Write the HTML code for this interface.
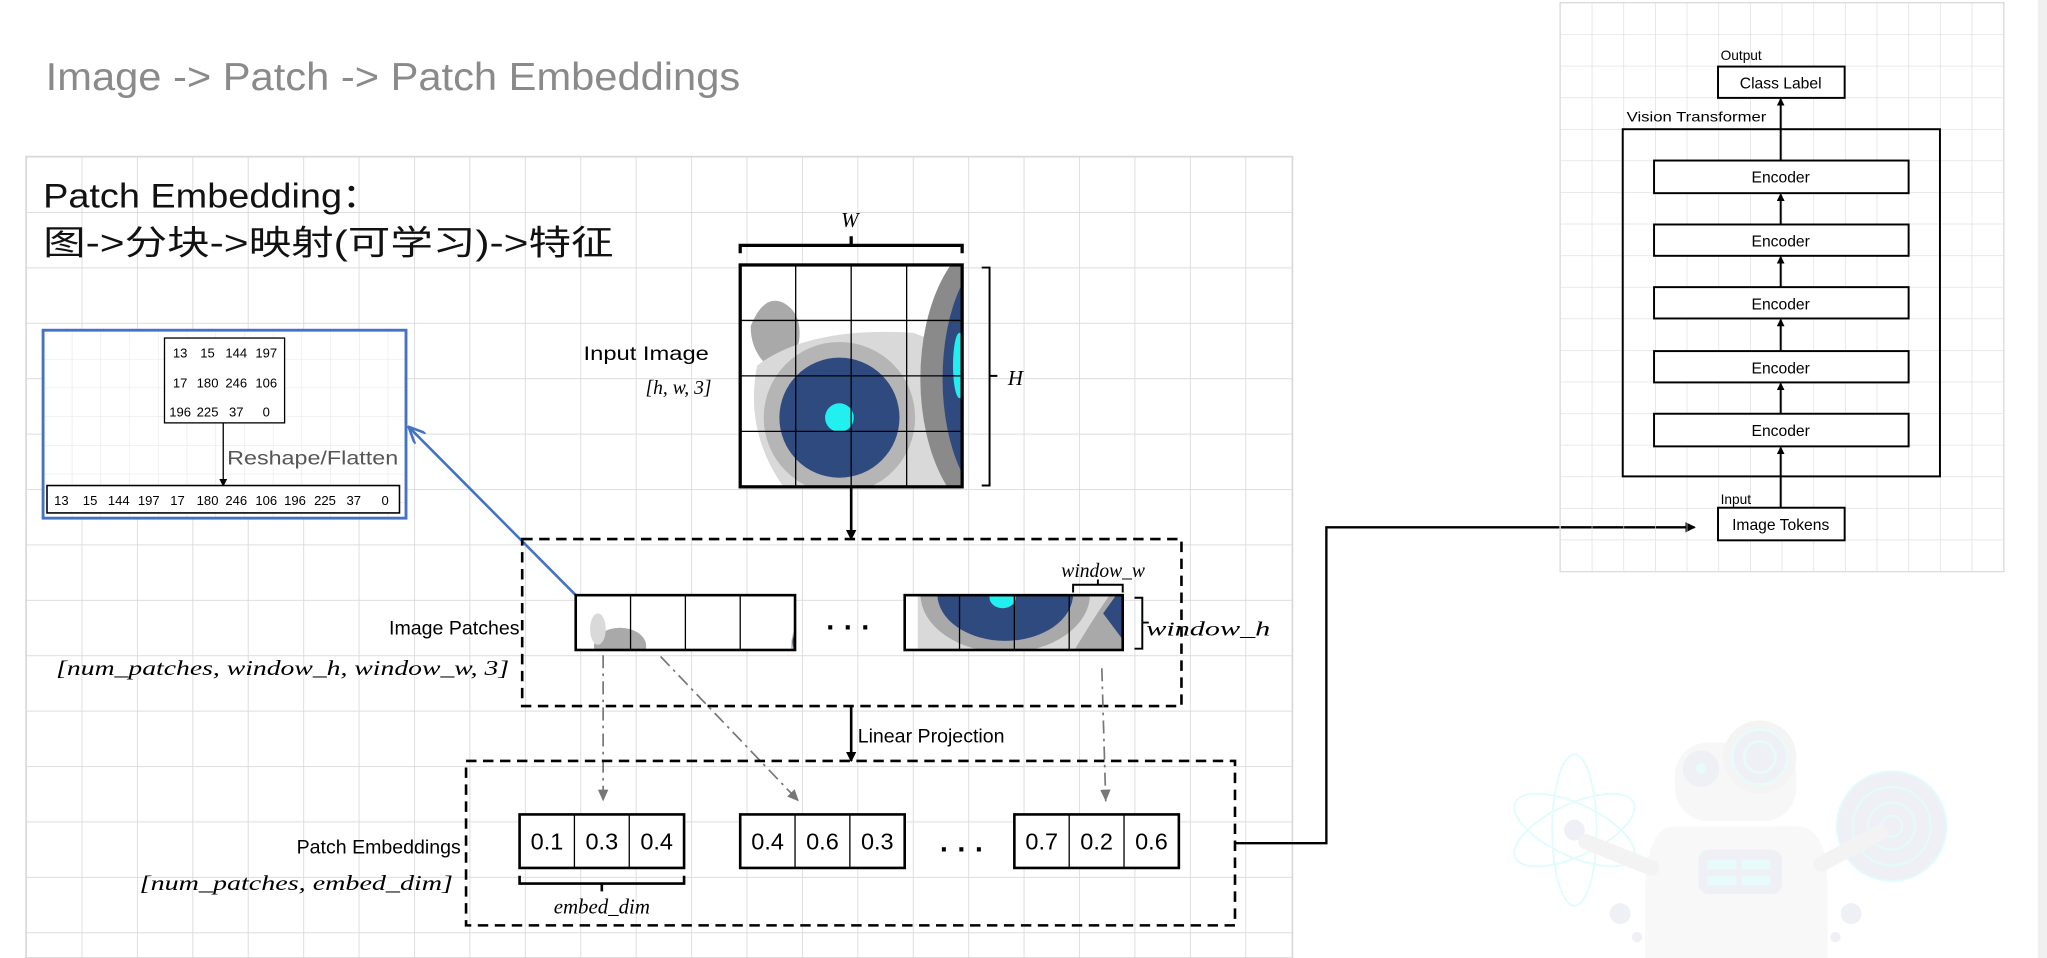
<!DOCTYPE html>
<html><head><meta charset="utf-8"><style>
html,body{margin:0;padding:0;background:#fff;width:2047px;height:958px;overflow:hidden}
svg{display:block}
text{font-family:"Liberation Sans","Noto Sans CJK SC",sans-serif}
.ser{font-family:"Liberation Serif",serif;font-style:italic}
</style></head><body>
<svg width="2047" height="958" viewBox="0 0 1568 734" preserveAspectRatio="none" xmlns="http://www.w3.org/2000/svg">
<defs>
<pattern id="g1" x="20" y="120" width="42.45" height="42.45" patternUnits="userSpaceOnUse"><path d="M0 0H42.45M0 0V42.45" stroke="#d9d9d9" stroke-width="1.3" fill="none"/></pattern>
<pattern id="g2" x="1195" y="2" width="24.25" height="24.2" patternUnits="userSpaceOnUse"><path d="M0 0H24.25M0 0V24.2" stroke="#dcdcdc" stroke-width="1" fill="none"/></pattern>
<pattern id="g3" x="33" y="253" width="22" height="22" patternUnits="userSpaceOnUse"><path d="M0 0H22M0 0V22" stroke="#e4e4e4" stroke-width="0.8" fill="none"/></pattern>
<marker id="ah" markerWidth="8" markerHeight="8" refX="7" refY="4" orient="auto" markerUnits="userSpaceOnUse"><path d="M0 0L8 4L0 8z" fill="#000"/></marker>
<marker id="ahs" markerWidth="6" markerHeight="6" refX="5" refY="3" orient="auto" markerUnits="userSpaceOnUse"><path d="M0 0L6 3L0 6z" fill="#000"/></marker>
<marker id="ahg" markerWidth="10" markerHeight="10" refX="9" refY="5" orient="auto" markerUnits="userSpaceOnUse"><path d="M0 1L9 5L0 9z" fill="#777"/></marker>
<marker id="ahb" markerWidth="14" markerHeight="12" refX="13" refY="6" orient="auto" markerUnits="userSpaceOnUse"><path d="M0 0L13 6L0 12" fill="none" stroke="#4472c4" stroke-width="2"/></marker>
<clipPath id="imgc"><rect x="567" y="203" width="170" height="170"/></clipPath>
<clipPath id="p1c"><rect x="441" y="456" width="168" height="42"/></clipPath>
<clipPath id="p2c"><rect x="693" y="456" width="167" height="42"/></clipPath>
</defs>
<rect x="1561" y="0" width="7" height="734" fill="#f0f0f0"/>
<text x="35" y="69" font-size="30" fill="#8a8a8a" textLength="532" lengthAdjust="spacingAndGlyphs">Image -&gt; Patch -&gt; Patch Embeddings</text>
<rect x="20" y="120" width="970" height="614" fill="url(#g1)"/>
<rect x="20" y="120" width="970" height="614" fill="none" stroke="#d9d9d9" stroke-width="1.3"/>
<text x="33" y="159" font-size="26" fill="#111" textLength="258" lengthAdjust="spacingAndGlyphs">Patch Embedding：</text>
<text x="33" y="195" font-size="26" fill="#111" textLength="437" lengthAdjust="spacingAndGlyphs">图-&gt;分块-&gt;映射(可学习)-&gt;特征</text>

<rect x="33" y="253" width="278" height="144" fill="#fff"/>
<rect x="33" y="253" width="278" height="144" fill="url(#g3)"/>
<rect x="33" y="253" width="278" height="144" fill="none" stroke="#4472c4" stroke-width="2.2"/>
<rect x="126" y="259" width="92" height="65" fill="#fff" stroke="#000" stroke-width="1"/>
<g font-size="10" text-anchor="middle" fill="#000">
<text x="138" y="274">13</text><text x="159" y="274">15</text><text x="181" y="274">144</text><text x="204" y="274">197</text>
<text x="138" y="297">17</text><text x="159" y="297">180</text><text x="181" y="297">246</text><text x="204" y="297">106</text>
<text x="138" y="319">196</text><text x="159" y="319">225</text><text x="181" y="319">37</text><text x="204" y="319">0</text>
</g>
<line x1="171" y1="324" x2="171" y2="372" stroke="#000" stroke-width="1" marker-end="url(#ahs)"/>
<text x="174" y="356" font-size="15" fill="#555" textLength="131" lengthAdjust="spacingAndGlyphs">Reshape/Flatten</text>
<rect x="36" y="372" width="270" height="21" fill="#fff" stroke="#000" stroke-width="1.2"/>
<g font-size="10" text-anchor="middle" fill="#000">
<text x="47" y="387">13</text><text x="69" y="387">15</text><text x="91" y="387">144</text><text x="114" y="387">197</text><text x="136" y="387">17</text><text x="159" y="387">180</text><text x="181" y="387">246</text><text x="204" y="387">106</text><text x="226" y="387">196</text><text x="249" y="387">225</text><text x="271" y="387">37</text><text x="295" y="387">0</text>
</g>
<line x1="442" y1="457" x2="313" y2="327" stroke="#4472c4" stroke-width="2" marker-end="url(#ahb)"/>

<text x="651" y="174" class="ser" font-size="16" text-anchor="middle">W</text>
<path d="M567 194V188H737V194M652 188V181" fill="none" stroke="#000" stroke-width="2.5"/>
<rect x="567" y="203" width="170" height="170" fill="#fff"/>
<g clip-path="url(#imgc)">
<path d="M575 250Q585 225 600 232Q615 240 612 262Q605 285 590 282Q575 270 575 250z" fill="#a9a9a9"/>
<path d="M580 280Q620 250 700 255L737 270V373H600Q570 330 580 280z" fill="#d9d9d9"/>
<circle cx="643" cy="320" r="58" fill="#b5b5b5"/>
<circle cx="643" cy="320" r="46" fill="#2f4a7e"/>
<circle cx="643" cy="320" r="11" fill="#22f0f0"/>
<ellipse cx="765" cy="290" rx="60" ry="110" fill="#8a8a8a"/>
<ellipse cx="770" cy="290" rx="48" ry="100" fill="#2f4a7e"/>
<ellipse cx="735" cy="280" rx="5" ry="25" fill="#22f0f0"/>
</g>
<g stroke="#000" stroke-width="1">
<line x1="609.5" y1="203" x2="609.5" y2="373"/><line x1="652" y1="203" x2="652" y2="373"/><line x1="694.5" y1="203" x2="694.5" y2="373"/>
<line x1="567" y1="245.5" x2="737" y2="245.5"/><line x1="567" y1="288" x2="737" y2="288"/><line x1="567" y1="330.5" x2="737" y2="330.5"/>
</g>
<rect x="567" y="203" width="170" height="170" fill="none" stroke="#000" stroke-width="2.5"/>
<path d="M752 205H758V372H752M758 288H764" fill="none" stroke="#000" stroke-width="1.5"/>
<text x="772" y="295" class="ser" font-size="16">H</text>
<text x="447" y="276" font-size="15" fill="#000" textLength="96" lengthAdjust="spacingAndGlyphs">Input Image</text>
<text x="545" y="302" font-size="15" text-anchor="end" class="ser" fill="#000">[h, w, 3]</text>
<line x1="652" y1="373" x2="652" y2="413" stroke="#000" stroke-width="2" marker-end="url(#ah)"/>

<rect x="400" y="413" width="505" height="128" fill="none" stroke="#000" stroke-width="2" stroke-dasharray="8,5"/>
<text x="398" y="486" font-size="15" text-anchor="end">Image Patches</text>
<text x="390" y="517" font-size="16" text-anchor="end" class="ser" textLength="347" lengthAdjust="spacingAndGlyphs">[num_patches, window_h, window_w, 3]</text>
<rect x="441" y="456" width="168" height="42" fill="#fff"/>
<g clip-path="url(#p1c)">
<ellipse cx="475" cy="495" rx="20" ry="14" fill="#a9a9a9"/>
<ellipse cx="458" cy="482" rx="6" ry="12" fill="#d9d9d9"/>
<ellipse cx="620" cy="495" rx="14" ry="22" fill="#bdbdbd"/>
<ellipse cx="612" cy="492" rx="5" ry="8" fill="#2f4a7e"/>
</g>
<g stroke="#000" stroke-width="1"><line x1="483" y1="456" x2="483" y2="498"/><line x1="525" y1="456" x2="525" y2="498"/><line x1="567" y1="456" x2="567" y2="498"/></g>
<rect x="441" y="456" width="168" height="42" fill="none" stroke="#000" stroke-width="2"/>
<text x="650" y="488" font-size="22" text-anchor="middle" font-weight="bold">·  ·  ·</text>
<rect x="693" y="456" width="167" height="42" fill="#fff"/>
<g clip-path="url(#p2c)">
<rect x="703" y="456" width="157" height="42" fill="#d9d9d9"/>
<ellipse cx="770" cy="455" rx="65" ry="45" fill="#a9a9a9"/>
<ellipse cx="770" cy="455" rx="52" ry="36" fill="#2f4a7e"/>
<ellipse cx="768" cy="458" rx="10" ry="8" fill="#22f0f0"/>
<path d="M823 498Q840 470 850 456H860V498z" fill="#a9a9a9"/>
<path d="M845 470L855 456H860V490z" fill="#2f4a7e"/>
</g>
<g stroke="#000" stroke-width="1"><line x1="735" y1="456" x2="735" y2="498"/><line x1="777" y1="456" x2="777" y2="498"/><line x1="819" y1="456" x2="819" y2="498"/></g>
<rect x="693" y="456" width="167" height="42" fill="none" stroke="#000" stroke-width="2"/>
<path d="M822 454V448H860V454M841 448V444" fill="none" stroke="#000" stroke-width="1.5"/>
<text x="845" y="442" font-size="15" text-anchor="middle" class="ser">window_w</text>
<path d="M869 458H875V497H869M875 477H880" fill="none" stroke="#000" stroke-width="1.5"/>
<text x="878" y="487" font-size="15" class="ser" textLength="95" lengthAdjust="spacingAndGlyphs">window_h</text>

<g stroke="#777" stroke-width="1.3" stroke-dasharray="10,4,2,4" fill="none">
<line x1="462" y1="502" x2="462" y2="614" marker-end="url(#ahg)"/>
<line x1="506" y1="503" x2="612" y2="614" marker-end="url(#ahg)"/>
<line x1="844" y1="512" x2="847" y2="614" marker-end="url(#ahg)"/>
</g>
<line x1="652" y1="541" x2="652" y2="583" stroke="#000" stroke-width="2" marker-end="url(#ah)"/>
<text x="657" y="569" font-size="15">Linear Projection</text>

<rect x="357" y="583" width="589" height="126" fill="none" stroke="#000" stroke-width="2" stroke-dasharray="8,5"/>
<text x="353" y="654" font-size="15" text-anchor="end">Patch Embeddings</text>
<text x="347" y="682" font-size="16" text-anchor="end" class="ser" textLength="240" lengthAdjust="spacingAndGlyphs">[num_patches, embed_dim]</text>
<g font-size="18" text-anchor="middle">
<rect x="398" y="624" width="126" height="41" fill="#fff" stroke="#000" stroke-width="2"/>
<line x1="440" y1="624" x2="440" y2="665" stroke="#000"/><line x1="482" y1="624" x2="482" y2="665" stroke="#000"/>
<text x="419" y="651">0.1</text><text x="461" y="651">0.3</text><text x="503" y="651">0.4</text>
<rect x="567" y="624" width="126" height="41" fill="#fff" stroke="#000" stroke-width="2"/>
<line x1="609" y1="624" x2="609" y2="665" stroke="#000"/><line x1="651" y1="624" x2="651" y2="665" stroke="#000"/>
<text x="588" y="651">0.4</text><text x="630" y="651">0.6</text><text x="672" y="651">0.3</text>
<rect x="777" y="624" width="126" height="41" fill="#fff" stroke="#000" stroke-width="2"/>
<line x1="819" y1="624" x2="819" y2="665" stroke="#000"/><line x1="861" y1="624" x2="861" y2="665" stroke="#000"/>
<text x="798" y="651">0.7</text><text x="840" y="651">0.2</text><text x="882" y="651">0.6</text>
</g>
<text x="737" y="658" font-size="22" text-anchor="middle" font-weight="bold">·  ·  ·</text>
<path d="M398 671V677H524V671M461 677V683" fill="none" stroke="#000" stroke-width="2"/>
<text x="461" y="700" font-size="16" text-anchor="middle" class="ser">embed_dim</text>

<path d="M946 646H1016V404H1298" fill="none" stroke="#000" stroke-width="1.8" marker-end="url(#ah)"/>

<rect x="1195" y="2" width="340" height="436" fill="url(#g2)"/>
<rect x="1195" y="2" width="340" height="436" fill="none" stroke="#dcdcdc"/>
<g font-size="10.5" fill="#000">
<text x="1318" y="46">Output</text>
<text x="1246" y="93" textLength="107" lengthAdjust="spacingAndGlyphs">Vision Transformer</text>
<text x="1318" y="386">Input</text>
</g>
<rect x="1316" y="51" width="97" height="24" fill="#fff" stroke="#000" stroke-width="1.5"/>
<text x="1364" y="68" font-size="12" text-anchor="middle">Class Label</text>
<rect x="1243" y="99" width="243" height="266" fill="none" stroke="#000" stroke-width="1.5"/>
<g stroke="#000" stroke-width="1.5">
<line x1="1364" y1="123" x2="1364" y2="76" marker-end="url(#ahs)"/>
<line x1="1364" y1="172" x2="1364" y2="149" marker-end="url(#ahs)"/>
<line x1="1364" y1="220" x2="1364" y2="197" marker-end="url(#ahs)"/>
<line x1="1364" y1="269" x2="1364" y2="245" marker-end="url(#ahs)"/>
<line x1="1364" y1="317" x2="1364" y2="294" marker-end="url(#ahs)"/>
<line x1="1364" y1="389" x2="1364" y2="343" marker-end="url(#ahs)"/>
</g>
<g font-size="12" text-anchor="middle">
<rect x="1267" y="123" width="195" height="25" fill="#fff" stroke="#000" stroke-width="1.5"/><text x="1364" y="140">Encoder</text>
<rect x="1267" y="172" width="195" height="24" fill="#fff" stroke="#000" stroke-width="1.5"/><text x="1364" y="189">Encoder</text>
<rect x="1267" y="220" width="195" height="24" fill="#fff" stroke="#000" stroke-width="1.5"/><text x="1364" y="237">Encoder</text>
<rect x="1267" y="269" width="195" height="24" fill="#fff" stroke="#000" stroke-width="1.5"/><text x="1364" y="286">Encoder</text>
<rect x="1267" y="317" width="195" height="25" fill="#fff" stroke="#000" stroke-width="1.5"/><text x="1364" y="334">Encoder</text>
<rect x="1316" y="389" width="97" height="25" fill="#fff" stroke="#000" stroke-width="1.5"/><text x="1364" y="406">Image Tokens</text>
</g>

<g opacity="0.45">
<path d="M1260 680Q1262 633 1283 633H1376Q1400 633 1400 680V734H1260z" fill="#f0f0f0"/>
<rect x="1283" y="569" width="93" height="60" rx="25" fill="#efefef"/>
<circle cx="1348" cy="580" r="28" fill="#e8e8e8"/>
<circle cx="1348" cy="580" r="21" fill="#dde0ea" stroke="#cdf8f8" stroke-width="2"/>
<circle cx="1348" cy="580" r="12" fill="none" stroke="#cdf8f8" stroke-width="2"/>
<circle cx="1303" cy="589" r="14" fill="#dde0ea"/>
<circle cx="1303" cy="589" r="4" fill="#cdf8f8"/>
<rect x="1301" y="651" width="64" height="34" rx="8" fill="#dde0ea"/>
<rect x="1308" y="659" width="22" height="7" fill="#cdf8f8"/><rect x="1334" y="659" width="22" height="7" fill="#cdf8f8"/>
<rect x="1308" y="671" width="22" height="7" fill="#cdf8f8"/><rect x="1334" y="671" width="22" height="7" fill="#cdf8f8"/>
<ellipse cx="1206" cy="636" rx="17" ry="58" fill="none" stroke="#bff8f8" stroke-width="1.5"/>
<ellipse cx="1206" cy="636" rx="50" ry="20" transform="rotate(-25 1206 636)" fill="none" stroke="#bff8f8" stroke-width="1.5"/>
<ellipse cx="1206" cy="636" rx="50" ry="20" transform="rotate(25 1206 636)" fill="none" stroke="#bff8f8" stroke-width="1.5"/>
<circle cx="1206" cy="636" r="8" fill="#dde0ea"/>
<circle cx="1449" cy="633" r="42" fill="#dde0ea" stroke="#bff8f8" stroke-width="1.5"/>
<circle cx="1449" cy="633" r="30" fill="none" stroke="#bff8f8" stroke-width="1.5"/>
<circle cx="1449" cy="633" r="18" fill="none" stroke="#bff8f8" stroke-width="1.5"/>
<circle cx="1449" cy="633" r="8" fill="none" stroke="#bff8f8" stroke-width="1.5"/>
<path d="M1215 645L1265 665M1440 638L1395 662" stroke="#e6e6e6" stroke-width="12" stroke-linecap="round"/>
<circle cx="1241" cy="700" r="8" fill="#dde0ea"/><circle cx="1254" cy="718" r="4" fill="#dde0ea"/>
<circle cx="1418" cy="700" r="8" fill="#dde0ea"/><circle cx="1406" cy="718" r="4" fill="#dde0ea"/>
</g>
</svg>
</body></html>
